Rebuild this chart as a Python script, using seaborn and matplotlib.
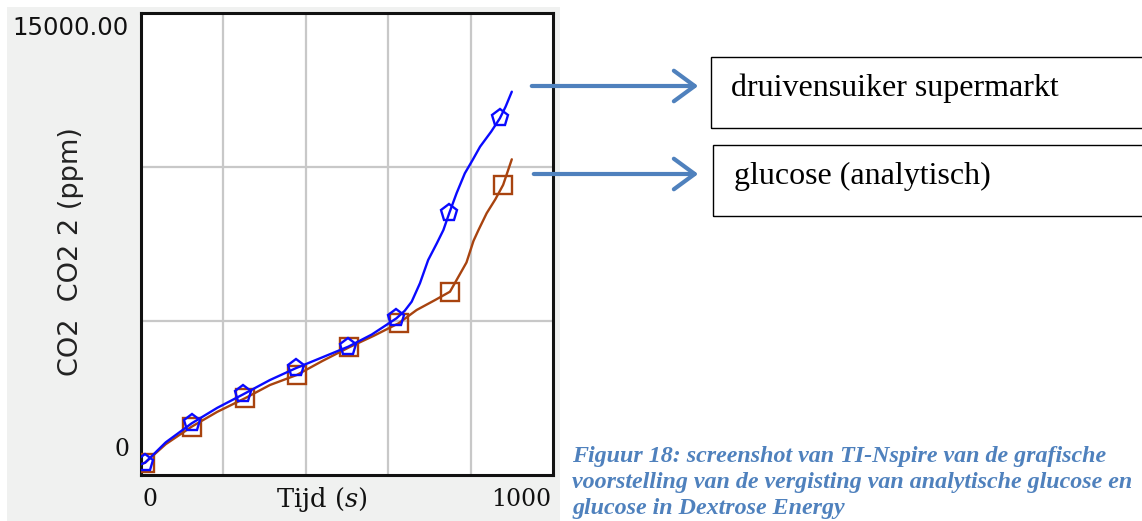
import matplotlib
matplotlib.use("Agg")
import matplotlib.pyplot as plt
import seaborn as sns
import pandas as pd
from matplotlib.patches import Rectangle, FancyArrowPatch

# ---- data ----
t_blue = [0, 10, 60, 123, 185, 248, 313, 375, 440, 503, 560, 620, 640, 657, 677,
          697, 718, 734, 748, 766, 786, 805, 823, 850, 871, 885, 900]
co2_blue = [350, 400, 1060, 1678, 2180, 2619, 3084, 3463, 3820, 4166, 4560, 5087,
            5330, 5627, 6224, 6980, 7522, 7955, 8496, 9150, 9795, 10230, 10660,
            11150, 11580, 11960, 12445]
blue_marker_idx = [1, 3, 5, 7, 9, 11, 18, 24]

t_orange = [0, 10, 60, 123, 185, 252, 313, 378, 440, 505, 565, 625, 669, 714,
            750, 790, 807, 819, 839, 860, 879, 900]
co2_orange = [350, 400, 1000, 1569, 2050, 2489, 2922, 3247, 3700, 4145, 4520,
              4924, 5357, 5682, 5952, 6900, 7600, 7950, 8500, 8950, 9420, 10250]
orange_marker_idx = [1, 3, 5, 7, 9, 11, 14, 20]

x_min, x_max = 0, 1000
y_min, y_max = 0, 15000
x_grid = [200, 400, 600, 800]
y_grid = [5000, 10000]

series_names = ["druivensuiker supermarkt", "glucose (analytisch)"]
caption_lines = ["Figuur 18: screenshot van TI-Nspire van de grafische",
                 "voorstelling van de vergisting van analytische glucose en",
                 "glucose in Dextrose Energy"]

# ---- figure ----
sns.set_theme(style="white")
plt.rcParams["font.family"] = ["DejaVu Sans"]

W, H = 1142, 521
fig = plt.figure(figsize=(W / 100, H / 100), dpi=100)
fig.patch.set_facecolor("white")

def px(x, y):
    return x / W, 1 - y / H

# grey screenshot background
fig.patches.append(Rectangle((7 / W, 0), (560 - 7) / W, (H - 7) / H,
                             transform=fig.transFigure, facecolor="#f0f1f0",
                             edgecolor="none", zorder=-5))

ax = fig.add_axes([141 / W, 1 - 475 / H, (553 - 141) / W, (475 - 13) / H])
ax.set_zorder(2)
ax.set_facecolor("white")

df_b = pd.DataFrame({"t": t_blue, "co2": co2_blue})
df_o = pd.DataFrame({"t": t_orange, "co2": co2_orange})

blue = "#0a0aff"
brown = "#a8430f"
sns.lineplot(data=df_b, x="t", y="co2", ax=ax, color=blue, lw=1.7,
             marker="p", markevery=blue_marker_idx, markersize=12.5,
             markerfacecolor="none", markeredgecolor=blue, markeredgewidth=1.7,
             zorder=4)
sns.lineplot(data=df_o, x="t", y="co2", ax=ax, color=brown, lw=1.7,
             marker="s", markevery=orange_marker_idx, markersize=13,
             markerfacecolor="none", markeredgecolor=brown, markeredgewidth=1.7,
             zorder=3)

ax.set_xlim(x_min, x_max)
ax.set_ylim(y_min, y_max)
ax.set_xticks(x_grid)
ax.set_yticks(y_grid)
ax.set_xticklabels([])
ax.set_yticklabels([])
ax.tick_params(length=0)
ax.grid(True, color="#c8c8c8", lw=1.6)
ax.set_axisbelow(True)
ax.set_xlabel("")
ax.set_ylabel("")
for s in ax.spines.values():
    s.set_visible(True)
    s.set_color("#111111")
    s.set_linewidth(2.2)

# axis texts (TI-Nspire style)
fig.text(*px(129, 28), f"{y_max:.2f}", ha="right", va="center", fontsize=17.6,
         family="DejaVu Sans", color="#111111")
fig.text(*px(130, 450), f"{y_min}", ha="right", va="center", fontsize=17,
         family="DejaVu Serif", color="#111111")
fig.text(*px(142, 500), f"{x_min}", ha="left", va="center", fontsize=17,
         family="DejaVu Serif", color="#111111")
fig.text(*px(551, 500), f"{x_max}", ha="right", va="center", fontsize=17,
         family="DejaVu Serif", color="#111111")
fig.text(*px(322, 500), r"Tijd ($\mathit{s}$)", ha="center", va="center",
         fontsize=18.5, family="DejaVu Serif", color="#111111",
         math_fontfamily="dejavuserif")
fig.text(*px(71, 252), "CO2  CO2 2 (ppm)", ha="center", va="center",
         rotation=90, fontsize=19.5, family="DejaVu Sans", color="#222222")

# annotation arrows and boxes
arrow_col = "#4f81bd"
for (x0, x1, y) in [(529, 701, 86), (531, 701, 174)]:
    fig.add_artist(FancyArrowPatch(
        px(x0, y), px(x1, y), transform=fig.transFigure,
        arrowstyle="->,head_length=0.75,head_width=0.55", mutation_scale=20,
        color=arrow_col, lw=3, zorder=10))

for (x0, y0, y1) in [(711, 57, 128), (713, 145, 216)]:
    fig.patches.append(Rectangle((x0 / W, 1 - y1 / H), (W + 20 - x0) / W,
                                 (y1 - y0) / H, transform=fig.transFigure,
                                 fill=False, edgecolor="black", lw=1))

fig.text(*px(731, 88), series_names[0], ha="left", va="center", fontsize=23,
         family="Liberation Serif", color="black")
fig.text(*px(734, 176), series_names[1], ha="left", va="center", fontsize=23,
         family="Liberation Serif", color="black")

for i, line in enumerate(caption_lines):
    fig.text(*px(572, 462 + 26 * i), line, ha="left", va="baseline",
             fontsize=17.3, family="Liberation Serif", fontweight="bold",
             fontstyle="italic", color=arrow_col)

fig.savefig("out.png", dpi=100)
